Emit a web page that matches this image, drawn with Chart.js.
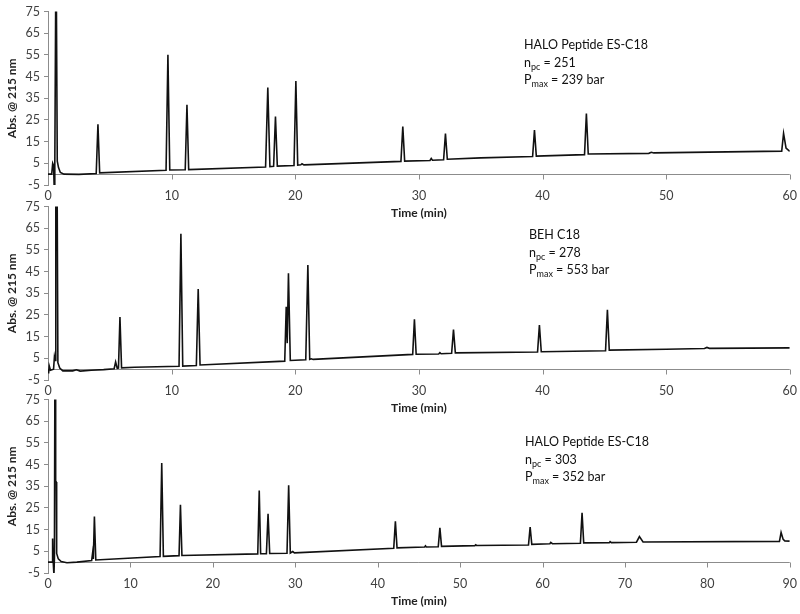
<!DOCTYPE html>
<html>
<head>
<meta charset="utf-8">
<script src="https://cdn.jsdelivr.net/npm/chart.js@4.4.1/dist/chart.umd.min.js"></script>
<style>
  html, body { margin: 0; padding: 0; background: #fff; }
  #wrap { position: relative; width: 800px; height: 614px; overflow: hidden; }
  .panel { position: absolute; left: 0; width: 800px; height: 222px; }
  .note { position: absolute; font-family: Lato, sans-serif; font-size: 12.5px; line-height: 17.5px; color: #111; white-space: nowrap; }
  .note sub { font-size: 9px; vertical-align: -3px; line-height: 0; }
</style>
</head>
<body>
<div id="wrap">
  <div class="panel" style="top:0px"><canvas id="c1"></canvas></div>
  <div class="panel" style="top:195px"><canvas id="c2"></canvas></div>
  <div class="panel" style="top:388px"><canvas id="c3"></canvas></div>
  <div class="note" style="left:524px; top:36px">HALO Peptide ES-C18<br>n<sub>pc</sub> = 251<br>P<sub>max</sub> = 239 bar</div>
  <div class="note" style="left:529px; top:226px">BEH C18<br>n<sub>pc</sub> = 278<br>P<sub>max</sub> = 553 bar</div>
  <div class="note" style="left:525px; top:433px">HALO Peptide ES-C18<br>n<sub>pc</sub> = 303<br>P<sub>max</sub> = 352 bar</div>
</div>
<script>
// tick labels
const yTicks = [-5, 5, 15, 25, 35, 45, 55, 65, 75];
const xTicks60 = [0, 10, 20, 30, 40, 50, 60];
const xTicks90 = [0, 10, 20, 30, 40, 50, 60, 70, 80, 90];

// panel 1 - HALO Peptide ES-C18 (60 min)
const t1 = [0, 0.3, 0.38, 0.45, 0.5, 0.55, 0.65, 0.75, 0.85, 1.0, 1.3, 2.5, 3.9, 4.04, 4.18,
  9.55, 9.7, 9.85, 11.1, 11.24, 11.38, 17.6, 17.78, 17.95, 18.25, 18.4, 18.55, 19.9, 20.05, 20.2,
  20.45, 20.55, 20.7, 28.55, 28.7, 28.85, 30.9, 31.0, 31.1, 32.0, 32.15, 32.3, 35, 39.2, 39.35, 39.5,
  43.4, 43.55, 43.7, 48.6, 48.8, 49.0, 59.35, 59.5, 59.7, 60];
const a1 = [0, 0, 5, 4, -6, 3, 110, 6, 3, 0.8, 0, -0.1, 0.3, 23, 0.6,
  1.8, 55, 1.9, 2.0, 32, 2.1, 3.3, 40, 3.5, 3.6, 26.6, 3.7, 4.0, 43, 4.2,
  4.3, 4.8, 4.3, 5.9, 22, 6.0, 6.3, 7.2, 6.4, 6.6, 18.7, 6.9, 7.5, 8.1, 20.3, 8.3,
  9.0, 28, 9.3, 9.6, 10.1, 9.8, 10.6, 18.8, 12, 10.5];

// panel 2 - BEH C18 (60 min)
const t2 = [0, 0.05, 0.1, 0.2, 0.45, 0.52, 0.58, 0.63, 0.72, 0.8, 0.95, 1.2, 2.0, 2.3, 2.6, 3.5, 4.5,
  5.35, 5.47, 5.6, 5.7, 5.82, 5.95, 7.0, 10.6, 10.75, 10.9, 12.0, 12.15, 12.3,
  19.15, 19.27, 19.35, 19.45, 19.6, 20.85, 21.02, 21.17, 21.3, 21.45,
  29.5, 29.64, 29.78, 31.6, 31.7, 31.8, 32.65, 32.8, 32.95, 39.6, 39.75, 39.9,
  45.1, 45.25, 45.4, 50, 53.1, 53.3, 53.5, 60];
const a2 = [0, -2, 1.5, -0.5, 0, 5.7, 4, 110, 110, 3, 0.5, -0.8, -0.8, -0.3, -0.9, -0.5, -0.2,
  0.2, 3.3, 0.4, 0.5, 24, 0.6, 0.9, 1.3, 62.4, 1.4, 1.7, 37, 1.9,
  3.7, 28.8, 12, 44.2, 4.0, 4.3, 48, 4.5, 4.8, 4.5,
  6.8, 23, 6.9, 7.0, 7.6, 7.1, 7.3, 18.2, 7.5, 7.9, 20.3, 8.0,
  8.5, 27.4, 8.8, 9.2, 9.5, 10.0, 9.6, 9.8];

// panel 3 - HALO Peptide ES-C18 (90 min)
const t3 = [0, 0.5, 0.56, 0.62, 0.72, 0.78, 0.85, 0.93, 1.0, 1.05, 1.25, 1.6, 2.3, 3.5,
  5.3, 5.42, 5.5, 5.63, 5.8, 13.6, 13.8, 14.0, 15.9, 16.07, 16.25,
  25.45, 25.63, 25.8, 26.5, 26.7, 26.9, 29.0, 29.2, 29.4, 29.7, 29.9,
  41.95, 42.15, 42.35, 45.7, 45.8, 45.9, 47.35, 47.55, 47.75, 51.8, 51.9, 52.0,
  58.3, 58.5, 58.7, 60.9, 61.0, 61.2, 64.6, 64.8, 65.0, 68.1, 68.2, 68.35,
  71.4, 71.76, 72.2, 88.75, 88.95, 89.2, 89.4, 90];
const a3 = [0, 0, 10.9, 1, -6, 2, 110, 37.5, 37, 4, 1.5, 0.3, -0.3, 0,
  0.8, 4.5, 1.5, 21, 1, 2.6, 45.7, 2.7, 3.0, 26.5, 3.1,
  3.8, 33, 3.9, 3.9, 22.3, 4.0, 4.1, 35.5, 4.2, 4.9, 4.3,
  6.4, 18.8, 6.6, 7.0, 7.5, 7.0, 7.1, 15.8, 7.3, 7.6, 8.0, 7.7,
  7.9, 16.2, 8.2, 8.5, 9.1, 8.5, 8.7, 22.8, 8.9, 9.0, 9.5, 9.0,
  9.2, 11.8, 9.3, 9.6, 13.7, 10.5, 9.8, 9.7];

const AXIS_COLOR = '#8c8c8c';
const TEXT_COLOR = '#404040';
Chart.defaults.font.family = 'Lato, sans-serif';

// the horizontal axis line sits at y = 0, tick marks hang from it
const zeroAxis = {
  id: 'zeroAxis',
  beforeDatasetsDraw(chart) {
    const { ctx, chartArea, scales: { x, y } } = chart;
    const y0 = Math.round(y.getPixelForValue(0)) + 0.5;
    ctx.save();
    ctx.strokeStyle = AXIS_COLOR;
    ctx.lineWidth = 1;
    ctx.beginPath();
    ctx.moveTo(chartArea.left, y0);
    ctx.lineTo(chartArea.right, y0);
    x.ticks.forEach(t => {
      const px = Math.round(x.getPixelForValue(t.value)) + 0.5;
      ctx.moveTo(px, y0);
      ctx.lineTo(px, y0 + 5);
    });
    ctx.stroke();
    ctx.restore();
  }
};

function makeChart(id, times, values, xMax, xTicks) {
  const pts = times.map((t, i) => ({ x: t, y: values[i] }));
  return new Chart(document.getElementById(id), {
    type: 'line',
    data: { datasets: [{ data: pts, borderColor: '#111', borderWidth: 1.6, pointRadius: 0, tension: 0 }] },
    options: {
      responsive: true, maintainAspectRatio: false, animation: false,
      layout: { padding: { top: 10, right: 10, left: 0, bottom: 0 } },
      plugins: { legend: { display: false }, tooltip: { enabled: false } },
      scales: {
        x: {
          type: 'linear', min: 0, max: xMax,
          afterBuildTicks: s => { s.ticks = xTicks.map(v => ({ value: v })); },
          afterFit: s => { s.height = 37; },
          grid: { display: false, drawTicks: false },
          border: { display: false },
          ticks: { color: TEXT_COLOR, font: { size: 12.5 }, padding: 3, maxRotation: 0, autoSkip: false },
          title: { display: true, text: 'Time (min)', color: '#222', font: { size: 12, weight: 'bold' }, padding: { top: 0, bottom: 2 } }
        },
        y: {
          min: -5, max: 75,
          afterBuildTicks: s => { s.ticks = yTicks.map(v => ({ value: v })); },
          afterFit: s => { s.width = 48; },
          grid: { drawOnChartArea: false, drawTicks: true, tickLength: 4, tickColor: AXIS_COLOR },
          border: { display: true, color: AXIS_COLOR, width: 1 },
          ticks: { color: TEXT_COLOR, font: { size: 12.5 }, padding: 4 },
          title: { display: true, text: 'Abs. @ 215 nm', color: '#222', font: { size: 12, weight: 'bold' }, padding: { top: 5, bottom: 0 } }
        }
      }
    },
    plugins: [zeroAxis]
  });
}

makeChart('c1', t1, a1, 60, xTicks60);
makeChart('c2', t2, a2, 60, xTicks60);
makeChart('c3', t3, a3, 90, xTicks90);
</script>
</body>
</html>
